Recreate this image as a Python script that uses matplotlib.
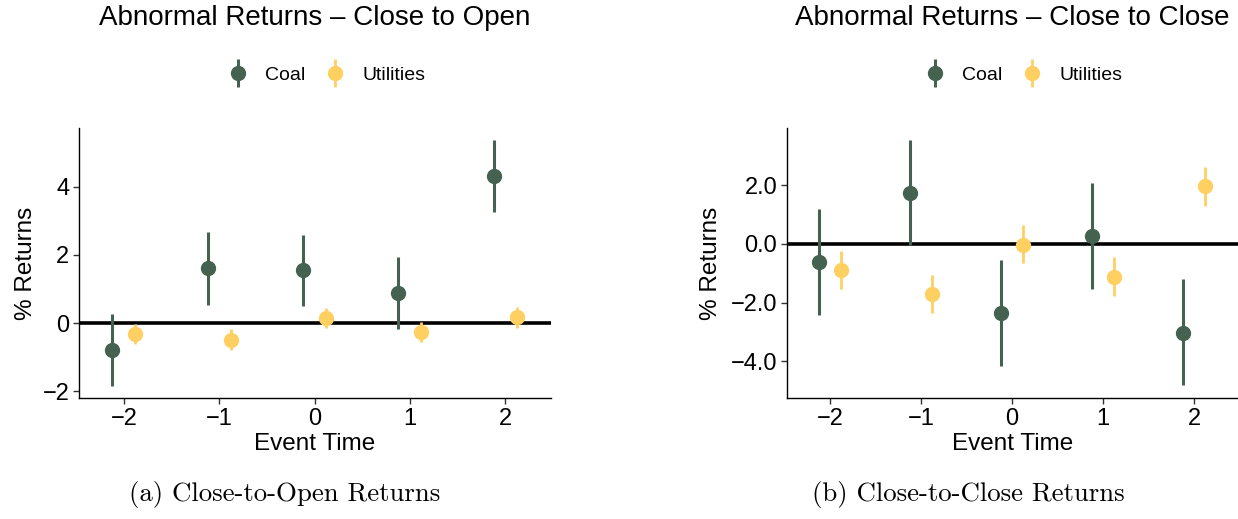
import matplotlib
matplotlib.use("Agg")
import matplotlib.pyplot as plt
from matplotlib.ticker import FixedLocator, FuncFormatter
from matplotlib.legend_handler import HandlerErrorbar
from matplotlib.container import ErrorbarContainer

plt.rcParams['font.family'] = ['Liberation Sans', 'DejaVu Sans']
plt.rcParams['axes.unicode_minus'] = True

event_time = [-2, -1, 0, 1, 2]
series = ["Coal", "Utilities"]

# Close to Open
co_coal = [-0.79, 1.61, 1.56, 0.89, 4.32]
co_coal_lo = [-1.84, 0.54, 0.49, -0.17, 3.26]
co_coal_hi = [0.26, 2.66, 2.59, 1.95, 5.37]
co_util = [-0.32, -0.49, 0.16, -0.27, 0.18]
co_util_lo = [-0.61, -0.80, -0.14, -0.55, -0.14]
co_util_hi = [-0.04, -0.19, 0.44, 0.02, 0.47]

# Close to Close
cc_coal = [-0.63, 1.74, -2.34, 0.27, -3.02]
cc_coal_lo = [-2.42, -0.05, -4.15, -1.53, -4.82]
cc_coal_hi = [1.18, 3.53, -0.54, 2.08, -1.21]
cc_util = [-0.89, -1.71, -0.02, -1.12, 1.97]
cc_util_lo = [-1.54, -2.37, -0.65, -1.77, 1.30]
cc_util_hi = [-0.25, -1.07, 0.63, -0.46, 2.63]

titles = ["Abnormal Returns \u2013 Close to Open", "Abnormal Returns \u2013 Close to Close"]
captions = ["(a) Close-to-Open Returns", "(b) Close-to-Close Returns"]
yticks_left = [-2, 0, 2, 4]
yticks_right = [-4.0, -2.0, 0.0, 2.0]

coal_color = "#44624F"
util_color = "#FED062"
dodge = 0.12

fig = plt.figure(figsize=(12.38, 5.19), dpi=100)
ax1 = fig.add_axes([79/1238, 1-398/519, 472/1238, 270/519])
ax2 = fig.add_axes([787/1238, 1-398/519, 451/1238, 270/519])

panels = [
    (ax1, co_coal, co_coal_lo, co_coal_hi, co_util, co_util_lo, co_util_hi, (-2.2, 5.72), yticks_left, lambda v, p: f"{v:.0f}".replace("-", "\u2212"), -0.09),
    (ax2, cc_coal, cc_coal_lo, cc_coal_hi, cc_util, cc_util_lo, cc_util_hi, (-5.25, 3.95), yticks_right, lambda v, p: f"{v:.1f}".replace("-", "\u2212"), -0.145),
]

for i, (ax, c, clo, chi, u, ulo, uhi, ylim, yt, fmt, ylab_x) in enumerate(panels):
    ax.axhline(0, color="black", lw=2.6, zorder=1)
    xc = [t - dodge for t in event_time]
    xu = [t + dodge for t in event_time]
    ec = ax.errorbar(xc, c, yerr=[[a - b for a, b in zip(c, clo)], [b - a for a, b in zip(c, chi)]],
                     fmt='o', color=coal_color, ms=10, elinewidth=2.2, capsize=0, zorder=3, label=series[0])
    eu = ax.errorbar(xu, u, yerr=[[a - b for a, b in zip(u, ulo)], [b - a for a, b in zip(u, uhi)]],
                     fmt='o', color=util_color, ms=10, elinewidth=2.0, capsize=0, zorder=3, label=series[1])
    ax.set_xlim(-2.47, 2.48)
    ax.set_ylim(*ylim)
    ax.xaxis.set_major_locator(FixedLocator(event_time))
    ax.xaxis.set_major_formatter(FuncFormatter(lambda v, p: f"{v:.0f}".replace("-", "\u2212")))
    ax.yaxis.set_major_locator(FixedLocator(yt))
    ax.yaxis.set_major_formatter(FuncFormatter(fmt))
    for s in ["top", "right"]:
        ax.spines[s].set_visible(False)
    for s in ["left", "bottom"]:
        ax.spines[s].set_color("black")
        ax.spines[s].set_linewidth(1.0)
    ax.tick_params(axis="both", labelsize=17, color="#333333", length=4, width=1, labelcolor="black", pad=3)
    ax.set_xlabel("Event Time", fontsize=17.5)
    ax.xaxis.set_label_coords(0.5, -0.13)
    ax.set_ylabel("% Returns", fontsize=17.5)
    ax.yaxis.set_label_coords(ylab_x, 0.5)
    ax.text(0.5, 1.407, titles[i], transform=ax.transAxes, ha="center", va="center", fontsize=20)
    ax.legend(handles=[ec, eu], loc="center", bbox_to_anchor=(0.525, 1.196), ncol=2, frameon=False,
              fontsize=14, handlelength=1.0, handletextpad=0.9, columnspacing=1.0,
              handler_map={ErrorbarContainer: HandlerErrorbar(xerr_size=0.5, yerr_size=0.72)})

fig.text(285/1238, 1-495/519, captions[0], ha="center", va="center", fontsize=19.3, family="cmr10")
fig.text(968/1238, 1-495/519, captions[1], ha="center", va="center", fontsize=19.3, family="cmr10")

fig.savefig("out.png", dpi=100)
